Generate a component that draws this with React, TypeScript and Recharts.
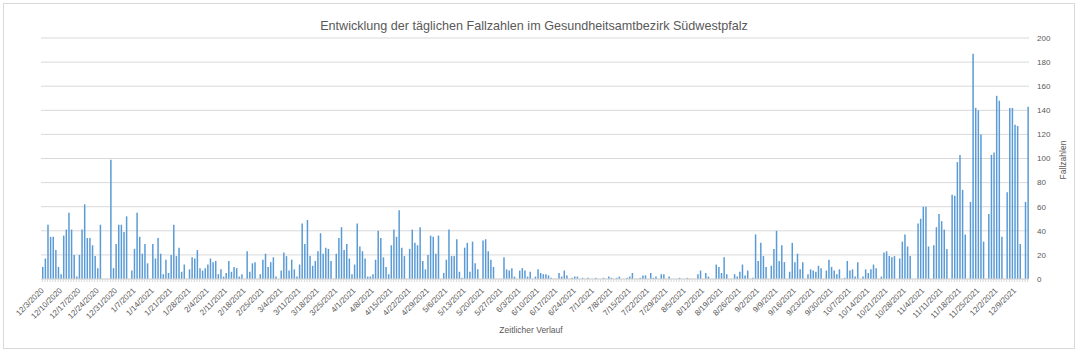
import React from "react";
import { BarChart, Bar, XAxis, YAxis, CartesianGrid } from "recharts";

// Start of the reporting period and number of reported days
const START_DATE = { year: 2020, month: 12, day: 3 };
const DAY_COUNT = 377;

// Daily case numbers
const casesWinter = [
  10, 17, 45, 35, 35, 24, 10, 4, 36, 41,
  55, 41, 20, 2, 20, 41, 62, 34, 34, 28,
  19, 9, 45, 0, 0, 0, 99, 9, 29, 45,
  45, 39, 52, 0, 7, 25, 55, 35, 21, 29,
  13, 0, 29, 17, 34, 21, 4, 16, 5, 20,
  45, 19, 26, 6, 12, 0, 8, 18, 17, 24,
  9, 7, 9, 12, 17, 14, 15, 4, 8, 2,
  5, 15, 6, 10, 9, 2, 4, 0, 23, 6,
  13, 14, 0, 4, 16, 21, 10, 14, 18, 2,
];
const casesSpring = [
  0, 7, 22, 19, 7, 16, 8, 2, 12, 46,
  29, 49, 19, 11, 15, 23, 38, 21, 26, 25,
  15, 0, 21, 34, 43, 24, 29, 17, 4, 12,
  46, 27, 23, 17, 2, 2, 4, 16, 40, 34,
  18, 10, 4, 28, 41, 35, 57, 26, 19, 0,
  25, 41, 30, 28, 43, 15, 8, 20, 36, 35,
  21, 36, 0, 5, 16, 41, 19, 19, 33, 6,
  1, 26, 30, 6, 31, 13, 8, 0, 32, 33,
  23, 16, 10, 0, 0, 0, 18, 8, 7, 9,
];
const casesSummer = [
  2, 0, 7, 9, 7, 2, 6, 0, 2, 8,
  5, 4, 4, 3, 1, 0, 0, 5, 2, 7,
  3, 0, 1, 2, 2, 0, 1, 0, 1, 0,
  0, 1, 0, 0, 1, 0, 2, 1, 0, 1,
  2, 0, 0, 1, 2, 5, 0, 0, 1, 3,
  3, 0, 5, 1, 2, 0, 4, 4, 0, 2,
  0, 0, 0, 1, 0, 0, 1, 0, 0, 0,
  4, 7, 0, 5, 2, 0, 0, 12, 10, 5,
  18, 4, 0, 0, 4, 2, 6, 12, 3, 7,
];
const casesAutumn = [
  0, 1, 37, 15, 30, 19, 10, 0, 11, 25,
  40, 15, 28, 14, 0, 6, 30, 14, 21, 8,
  14, 0, 4, 8, 7, 6, 11, 9, 0, 7,
  16, 10, 7, 4, 8, 0, 1, 15, 7, 8,
  2, 14, 0, 2, 8, 5, 8, 12, 9, 0,
  2, 22, 23, 19, 18, 19, 0, 17, 31, 37,
  27, 19, 0, 0, 46, 50, 60, 60, 27, 0,
  28, 43, 54, 48, 41, 25, 0, 70, 69, 97,
  103, 74, 37, 0, 64, 187, 142, 140, 120, 31,
  0, 54, 103, 105, 152, 148, 35, 0, 72, 142,
  142, 128, 127, 29, 0, 64, 143,
];

const yTicks = [0, 20, 40, 60, 80, 100, 120, 140, 160, 180, 200];

const TITLE = "Entwicklung der täglichen Fallzahlen im Gesundheitsamtbezirk Südwestpfalz";
const X_TITLE = "Zeitlicher Verlauf";
const Y_TITLE = "Fallzahlen";

const cases = [...casesWinter, ...casesSpring, ...casesSummer, ...casesAutumn];

const dates: string[] = Array.from({ length: DAY_COUNT }, (_, i) => {
  const d = new Date(Date.UTC(START_DATE.year, START_DATE.month - 1, START_DATE.day + i));
  return `${d.getUTCMonth() + 1}/${d.getUTCDate()}/${d.getUTCFullYear()}`;
});

const data = dates.map((date, i) => ({ date, value: cases[i] ?? 0 }));

const FONT = "'Liberation Sans', Arial, sans-serif";
const TEXT = "#595959";

const XTick = (props: any) => {
  const { x, y, payload } = props;
  const i = payload?.index ?? props.index;
  if (i % 7 !== 0) return <g />;
  const px = x + 2;
  const py = y + 7;
  return (
    <text
      x={px}
      y={py}
      transform={`rotate(-45, ${px}, ${py})`}
      textAnchor="end"
      fontSize={8}
      fill={TEXT}
      fontFamily={FONT}
    >
      {payload.value}
    </text>
  );
};

export default function App() {
  return (
    <div
      style={{
        position: "absolute",
        left: 0,
        top: 0,
        width: 1081,
        height: 353,
        background: "#fff",
        fontFamily: FONT,
      }}
    >
      <div
        style={{
          position: "absolute",
          left: 3,
          top: 3,
          width: 1070,
          height: 344,
          border: "1px solid #D9D9D9",
        }}
      />
      <div
        style={{
          position: "absolute",
          left: 0,
          width: 1068,
          top: 19,
          textAlign: "center",
          fontSize: 12.6,
          color: TEXT,
          whiteSpace: "nowrap",
        }}
      >
        {TITLE}
      </div>
      <BarChart
        width={1081}
        height={353}
        data={data}
        margin={{ top: 38, right: 12, left: 41, bottom: 44 }}
        barCategoryGap={0}
        style={{ position: "absolute", left: 0, top: 0 }}
      >
        <CartesianGrid vertical={false} stroke="#D9D9D9" strokeWidth={1} />
        <XAxis
          dataKey="date"
          interval={0}
          height={30}
          tick={<XTick />}
          tickSize={3}
          tickLine={{ stroke: "#D9D9D9" }}
          axisLine={{ stroke: "#D9D9D9" }}
        />
        <YAxis
          orientation="right"
          width={40}
          domain={[0, 200]}
          ticks={yTicks}
          interval={0}
          axisLine={false}
          tickLine={false}
          tick={{ fontSize: 8, fill: TEXT, fontFamily: FONT, textAnchor: "start" }}
        />
        <Bar dataKey="value" fill="#5B9BD5" barSize={1.5} isAnimationActive={false} />
      </BarChart>
      <div
        style={{
          position: "absolute",
          left: 481,
          width: 100,
          top: 325,
          textAlign: "center",
          fontSize: 8.5,
          color: TEXT,
          whiteSpace: "nowrap",
        }}
      >
        {X_TITLE}
      </div>
      <div
        style={{
          position: "absolute",
          left: 1063 - 50,
          top: 160 - 6,
          width: 100,
          height: 12,
          lineHeight: "12px",
          textAlign: "center",
          fontSize: 8.5,
          color: TEXT,
          whiteSpace: "nowrap",
          transform: "rotate(-90deg)",
          transformOrigin: "50px 6px",
        }}
      >
        {Y_TITLE}
      </div>
    </div>
  );
}
